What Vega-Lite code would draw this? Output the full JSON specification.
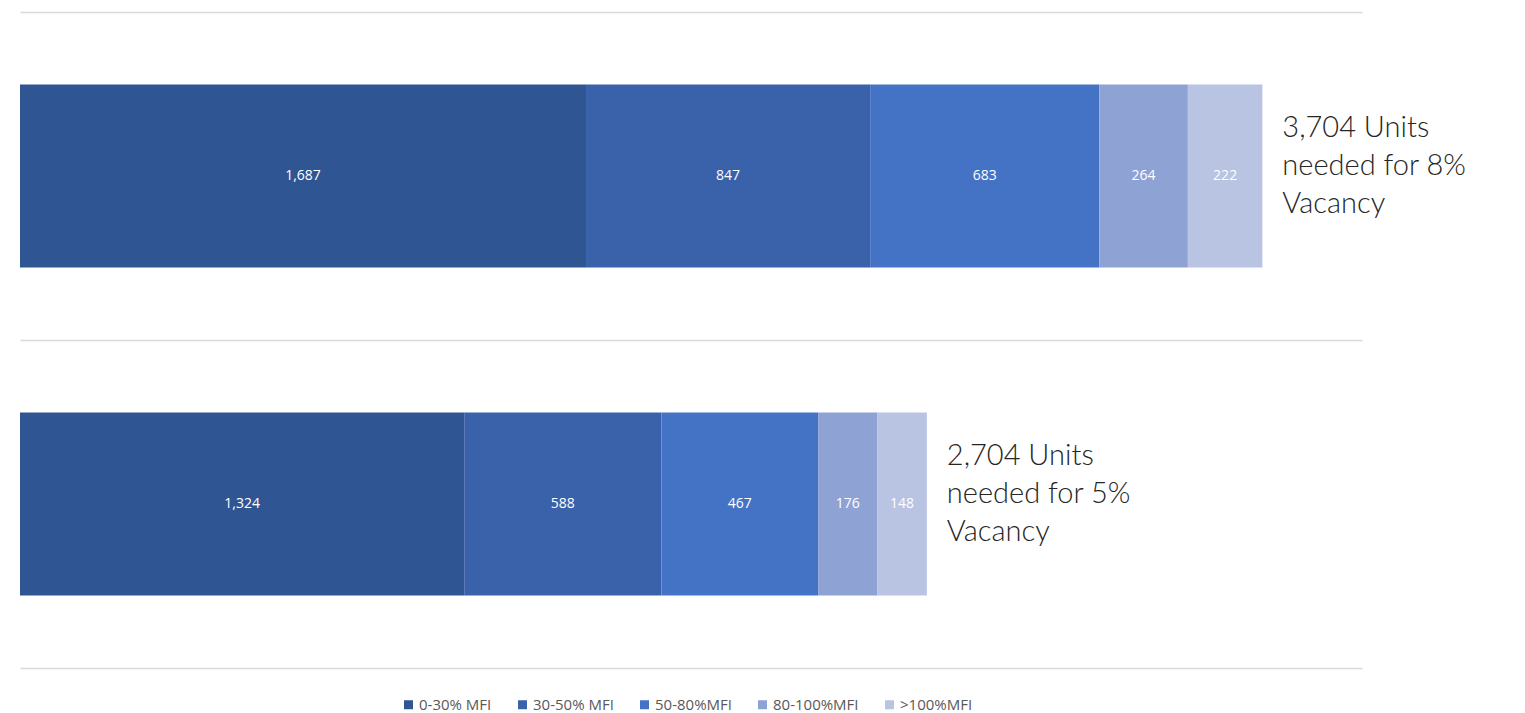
{
  "$schema": "https://vega.github.io/schema/vega-lite/v6.json",
  "width": 1342,
  "height": 656,
  "autosize": "none",
  "padding": {"left": 20, "top": 12, "right": 163, "bottom": 45},
  "background": "white",
  "config": {"view": {"stroke": null}},
  "datasets": {
    "bars": [
      {"scenario": "8% Vacancy", "band": "0-30% MFI", "order": 1, "units": 1687},
      {"scenario": "8% Vacancy", "band": "30-50% MFI", "order": 2, "units": 847},
      {"scenario": "8% Vacancy", "band": "50-80%MFI", "order": 3, "units": 683},
      {"scenario": "8% Vacancy", "band": "80-100%MFI", "order": 4, "units": 264},
      {"scenario": "8% Vacancy", "band": ">100%MFI", "order": 5, "units": 222},
      {"scenario": "5% Vacancy", "band": "0-30% MFI", "order": 1, "units": 1324},
      {"scenario": "5% Vacancy", "band": "30-50% MFI", "order": 2, "units": 588},
      {"scenario": "5% Vacancy", "band": "50-80%MFI", "order": 3, "units": 467},
      {"scenario": "5% Vacancy", "band": "80-100%MFI", "order": 4, "units": 176},
      {"scenario": "5% Vacancy", "band": ">100%MFI", "order": 5, "units": 148}
    ],
    "notes": [
      {"scenario": "8% Vacancy", "total": 3703, "note": "3,704 Units\nneeded for 8%\nVacancy"},
      {"scenario": "5% Vacancy", "total": 2703, "note": "2,704 Units\nneeded for 5%\nVacancy"}
    ]
  },
  "encoding": {
    "y": {
      "field": "scenario",
      "type": "nominal",
      "sort": ["8% Vacancy", "5% Vacancy"],
      "scale": {"paddingInner": 0.442, "paddingOuter": 0.221},
      "axis": {
        "title": null,
        "labels": false,
        "ticks": false,
        "domain": false,
        "grid": true,
        "bandPosition": -0.396,
        "gridColor": "#d9d9d9",
        "gridWidth": 1.5
      }
    }
  },
  "layer": [
    {
      "data": {"name": "bars"},
      "mark": {"type": "bar"},
      "encoding": {
        "x": {
          "field": "units",
          "type": "quantitative",
          "stack": "zero",
          "scale": {"domain": [0, 4000], "nice": false},
          "axis": {
            "orient": "bottom",
            "title": null,
            "labels": false,
            "ticks": false,
            "grid": false,
            "domain": true,
            "domainColor": "#d9d9d9",
            "domainWidth": 1.5
          }
        },
        "order": {"field": "order", "type": "quantitative"},
        "color": {
          "field": "band",
          "type": "nominal",
          "sort": ["0-30% MFI", "30-50% MFI", "50-80%MFI", "80-100%MFI", ">100%MFI"],
          "scale": {
            "domain": ["0-30% MFI", "30-50% MFI", "50-80%MFI", "80-100%MFI", ">100%MFI"],
            "range": ["#2f5592", "#3a62ab", "#4472c4", "#8ea2d4", "#b9c3e2"]
          },
          "legend": {
            "title": null,
            "orient": "none",
            "legendX": 381,
            "legendY": 685,
            "direction": "horizontal",
            "symbolType": "square",
            "symbolSize": 81,
            "symbolStrokeWidth": 0,
            "labelFont": "Open Sans",
            "labelFontSize": 15,
            "labelColor": "#595959",
            "columnPadding": 23,
            "labelOffset": 3
          }
        }
      }
    },
    {
      "data": {"name": "bars"},
      "mark": {"type": "text", "color": "white", "font": "Open Sans", "fontSize": 14},
      "encoding": {
        "x": {"field": "units", "type": "quantitative", "stack": "zero", "bandPosition": 0.5},
        "order": {"field": "order", "type": "quantitative"},
        "text": {"field": "units", "type": "quantitative", "format": ","}
      }
    },
    {
      "data": {"name": "notes"},
      "mark": {
        "type": "text",
        "align": "left",
        "baseline": "middle",
        "dx": 20,
        "dy": -48,
        "font": "Lato",
        "fontSize": 29,
        "fontWeight": 300,
        "lineHeight": 38,
        "color": "#262626",
        "lineBreak": "\n"
      },
      "encoding": {
        "x": {"field": "total", "type": "quantitative"},
        "text": {"field": "note"}
      }
    }
  ]
}
